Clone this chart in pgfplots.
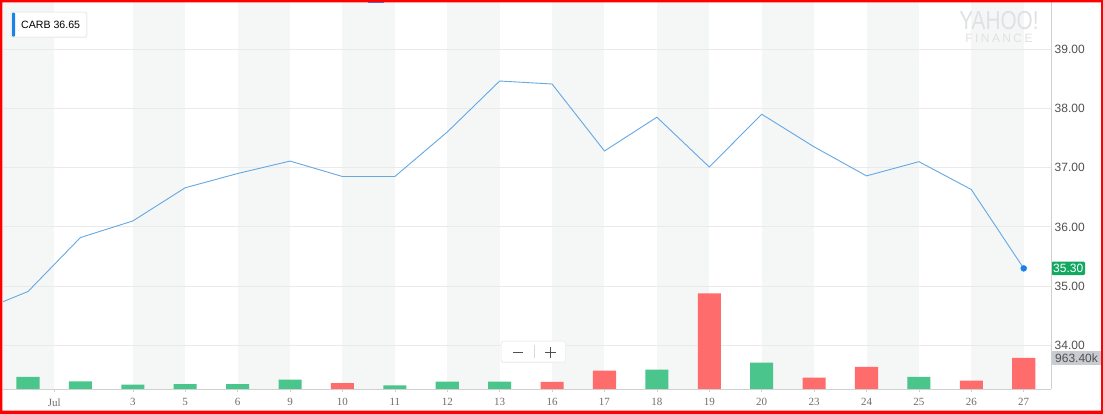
\documentclass[border=0pt]{standalone}
\usepackage{pgfplots}
\usepackage{pgfplotstable}
\pgfplotsset{compat=1.18}
\usepackage{fontspec}
\setmainfont{Liberation Sans}
\newfontfamily\serifx{Liberation Serif}

\definecolor{frame}{RGB}{255,0,0}
\definecolor{band}{RGB}{245,246,246}
\definecolor{gridc}{RGB}{234,234,234}
\definecolor{axisc}{RGB}{208,208,208}
\definecolor{pline}{RGB}{100,168,228}
\definecolor{pdot}{RGB}{28,130,232}
\definecolor{volup}{RGB}{74,197,140}
\definecolor{voldn}{RGB}{255,108,108}
\definecolor{tagup}{RGB}{18,168,98}
\definecolor{taggray}{RGB}{200,203,208}
\definecolor{labc}{RGB}{80,80,80}
\definecolor{xlabc}{RGB}{110,110,110}
\definecolor{wm}{RGB}{224,225,228}
\definecolor{topmark}{RGB}{110,95,200}

\newcommand\ylabfont{\fontsize{12}{14}\selectfont}
\newcommand\xlabfont{\serifx\fontsize{11}{13}\selectfont}

% daily closing prices (index 0 = Jun 29, index 19 = Jul 27)
\pgfplotstableread{
idx close
-1 34.55
0 34.91
1 35.82
2 36.10
3 36.66
4 36.90
5 37.11
6 36.85
7 36.85
8 37.60
9 38.46
10 38.41
11 37.28
12 37.85
13 37.01
14 37.90
15 37.35
16 36.86
17 37.10
18 36.63
19 35.30
}\price

% volume in thousands, up days
\pgfplotstableread{
idx vol
0 373
1 236
2 134
3 155
4 155
5 289
7 115
8 228
9 228
12 601
14 818
17 373
}\upvol

% volume in thousands, down days
\pgfplotstableread{
idx vol
6 186
10 222
11 570
13 2973
15 352
16 684
18 259
19 963.4
}\dnvol

\pgfplotsset{
  base/.style={
    scale only axis, width=1048pt, height=387pt,
    at={(3pt,25pt)}, anchor=south west,
    xmin=-0.477, xmax=19.52,
  }
}

\begin{document}
\begin{tikzpicture}
\useasboundingbox (0,0) rectangle (1103pt,414pt);
\fill[white] (0,0) rectangle (1103pt,414pt);

% background bands, grid and price scale
\begin{axis}[base,
  ymin=33.266, ymax=39.793,
  axis line style={draw=none},
  tick style={draw=none},
  xtick=\empty,
  ytick={34,35,36,37,38,39},
  yticklabel pos=right,
  yticklabel style={font=\ylabfont, text=labc, anchor=west, inner xsep=0pt, xshift=3.5pt},
  /pgf/number format/.cd, fixed, fixed zerofill, precision=2, assume math mode=true,
]
\fill[band] (axis cs:-0.6,33.266) rectangle (axis cs:0.5,39.793);
\fill[band] (axis cs:2,33.266) rectangle (axis cs:3,39.793);
\fill[band] (axis cs:4,33.266) rectangle (axis cs:5,39.793);
\fill[band] (axis cs:6,33.266) rectangle (axis cs:7,39.793);
\fill[band] (axis cs:8,33.266) rectangle (axis cs:9,39.793);
\fill[band] (axis cs:10,33.266) rectangle (axis cs:11,39.793);
\fill[band] (axis cs:12,33.266) rectangle (axis cs:13,39.793);
\fill[band] (axis cs:14,33.266) rectangle (axis cs:15,39.793);
\fill[band] (axis cs:16,33.266) rectangle (axis cs:17,39.793);
\fill[band] (axis cs:18,33.266) rectangle (axis cs:19,39.793);
\pgfplotsinvokeforeach{34,35,36,37,38,39}{
  \draw[gridc, line width=0.8pt] (axis cs:-0.6,#1) -- (axis cs:19.6,#1);
}
\end{axis}

% watermark
\node[font=\fontsize{26}{28}\selectfont, text=wm, xscale=0.8, inner sep=0pt] at (999pt,393.6pt) {YAHOO!};
\node[font=\fontsize{12}{13}\selectfont\addfontfeatures{LetterSpace=20}, text=wm, inner sep=0pt] at (999pt,375.8pt) {FINANCE};

% volume bars
\begin{axis}[base,
  ymin=0, ymax=12028,
  axis x line=bottom, axis y line=none,
  x axis line style={draw=axisc, line width=0.8pt, -},
  xtick={0.5,2,3,4,5,6,7,8,9,10,11,12,13,14,15,16,17,18,19},
  xticklabels={Jul,3,5,6,9,10,11,12,13,16,17,18,19,20,23,24,25,26,27},
  xtick align=outside, major tick length=3pt,
  xtick style={draw=axisc, line width=0.6pt},
  xticklabel style={font=\xlabfont, text=xlabc, yshift=-3pt},
  ytick=\empty,
  ybar,
  clip mode=individual,
]
\addplot[fill=volup, draw=none, bar width=0.44, bar shift=0pt] table[x=idx,y=vol]{\upvol};
\addplot[fill=voldn, draw=none, bar width=0.44, bar shift=0pt] table[x=idx,y=vol]{\dnvol};
\node[fill=taggray, text=labc, font=\ylabfont, anchor=west, rounded corners=1.5pt,
      inner xsep=4pt, inner ysep=2.5pt] at (axis cs:19.52,963.4) {963.40k};
\end{axis}

% price line
\begin{axis}[base,
  ymin=33.266, ymax=39.793,
  hide axis,
  clip mode=individual,
]
\addplot[pline, line width=0.9pt, mark=none] table[x=idx,y=close]{\price};
\addplot[only marks, mark=*, mark size=3pt, pdot, mark options={draw=pdot, fill=pdot}] coordinates {(19,35.30)};
\node[fill=tagup, text=white, font=\ylabfont, anchor=west, rounded corners=1.5pt,
      inner xsep=2pt, inner ysep=2.5pt] at (axis cs:19.52,35.30) {35.30};
\end{axis}

% right edge of the plot area
\draw[axisc, line width=0.8pt] (1051.5pt,25pt) -- (1051.5pt,414pt);

% ticker box
\fill[black!7, rounded corners=2pt] (10.8pt,376.2pt) rectangle (87.3pt,402.4pt);
\fill[white, rounded corners=1.5pt] (12pt,377.3pt) rectangle (86pt,401.3pt);
\fill[pdot, rounded corners=1pt] (12pt,377.3pt) rectangle (15pt,401.3pt);
\node[anchor=west, font=\fontsize{10.6}{12}\selectfont, inner sep=0pt] at (21pt,389.3pt) {CARB 36.65};

% zoom buttons
\fill[black!6, rounded corners=2pt] (500.7pt,51pt) rectangle (566pt,73.3pt);
\fill[white, rounded corners=1.5pt] (501.7pt,52.3pt) rectangle (565pt,72.3pt);
\draw[labc, line width=1.1pt] (513pt,61.5pt) -- (523pt,61.5pt);
\draw[black!15, line width=0.8pt] (534pt,56pt) -- (534pt,69pt);
\draw[labc, line width=1.1pt] (545pt,61.5pt) -- (556pt,61.5pt) (550.5pt,56pt) -- (550.5pt,67pt);

% frame
\fill[frame, even odd rule] (0,0) rectangle (1103pt,414pt) (2.3pt,3.3pt) rectangle (1101pt,411.5pt);
\fill[topmark] (368pt,410.8pt) rectangle (384pt,412.2pt);
\end{tikzpicture}
\end{document}
